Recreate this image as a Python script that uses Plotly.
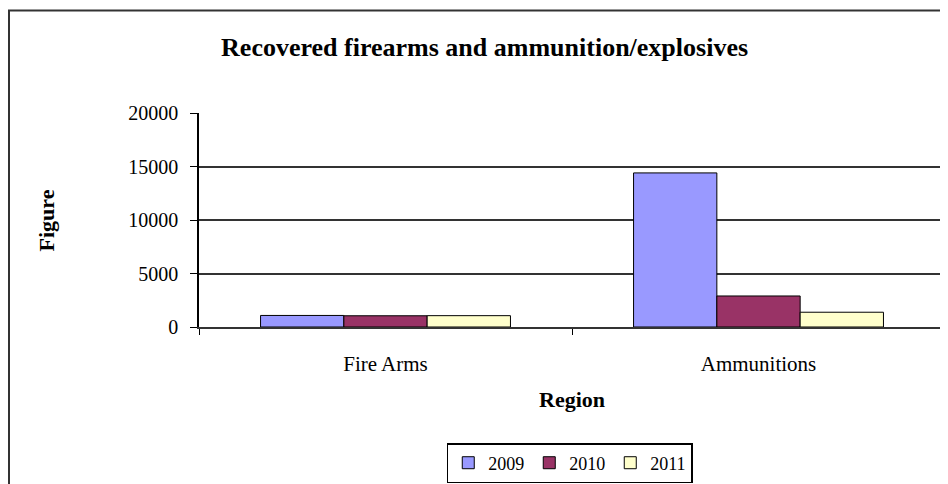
import plotly.graph_objects as go

categories = ["Fire Arms", "Ammunitions"]
years = ["2009", "2010", "2011"]
values_2009 = [1080, 14400]
values_2010 = [1050, 2900]
values_2011 = [1060, 1380]
y_ticks = [0, 5000, 10000, 15000, 20000]

colors = {"2009": "#9999FF", "2010": "#993366", "2011": "#FFFFCC"}
serif = "Liberation Serif"

fig = go.Figure()
for year, vals in zip(years, [values_2009, values_2010, values_2011]):
    fig.add_trace(go.Bar(
        x=categories, y=vals, name=year,
        marker=dict(color=colors[year], line=dict(color="#000000", width=1)),
    ))

# page body has an 8px margin, so the figure is sized to fit inside the window
fig.update_layout(
    width=940, height=476,
    margin=dict(l=191, r=3, t=105, b=156),
    paper_bgcolor="white", plot_bgcolor="white",
    barmode="group", bargap=0.33, bargroupgap=0,
    font=dict(family=serif, size=20, color="#000000"),
    title=dict(
        text="<b>Recovered firearms and ammunition/explosives</b>",
        x=0.507, xanchor="center", y=0.918, yanchor="middle",
        font=dict(family=serif, size=26, color="#000000"),
    ),
    showlegend=True,
    legend=dict(
        orientation="h", x=0.497, xanchor="center", y=-0.535, yanchor="top",
        bordercolor="#000000", borderwidth=1.5,
        font=dict(family=serif, size=18),
        itemwidth=30, tracegroupgap=0,
    ),
)

fig.update_yaxes(
    range=[0, 20000], tickvals=y_ticks, tickformat="d",
    showgrid=True, gridcolor="#333333", gridwidth=1.5,
    showline=True, linecolor="#000000", linewidth=1.5,
    ticks="outside", ticklen=7, tickcolor="#000000",
    zeroline=False, ticklabelstandoff=8,
    tickfont=dict(family=serif, size=20),
)
fig.update_xaxes(
    showline=True, linecolor="#333333", linewidth=1.5, mirror=False,
    ticks="outside", tickson="boundaries", ticklen=6, tickcolor="#000000",
    ticklabelstandoff=17,
    tickfont=dict(family=serif, size=21),
)

# axis titles
fig.add_annotation(text="<b>Figure</b>", textangle=-90, xref="paper", yref="paper",
                   x=-0.205, y=0.498, xanchor="center", yanchor="middle",
                   showarrow=False, font=dict(family=serif, size=22))
fig.add_annotation(text="<b>Region</b>", xref="paper", yref="paper",
                   x=0.5, y=-0.34, xanchor="center", yanchor="middle",
                   showarrow=False, font=dict(family=serif, size=22))

# plot-area right border and outer chart frame
fig.add_shape(type="line", xref="paper", yref="paper", x0=1, x1=1, y0=0, y1=1,
              line=dict(color="#888888", width=1.5))
fig.add_shape(type="rect", xref="paper", yref="paper", x0=-0.2547, x1=1.1, y0=-0.8, y1=1.479,
              line=dict(color="#333333", width=2), layer="below")

fig.write_html("out.html")
